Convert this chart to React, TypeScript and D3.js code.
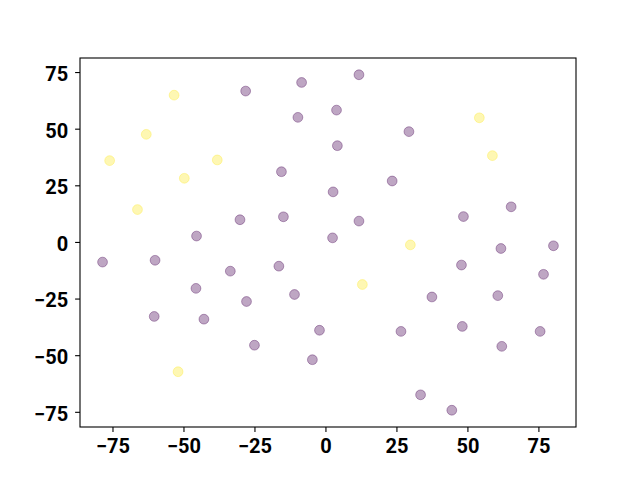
import React, { useEffect, useRef } from "react";
import * as d3 from "d3";

// point coordinates, grouped by class
const purpleX = [-45.4, -30.1, -28.1, -15.5, -14.8, -9.7, -8.4, 2.5, 2.7, 3.9, 4.2, 11.8, 11.8, 29.4, 23.5, 48.6, 65.4, 61.8, 80.3, -78.5, -60.0, -33.5, -16.4, -45.6, -27.8, -10.9, -60.3, -42.8, -2.1, -25.0, -4.6, 47.9, 76.8, 37.5, 60.7, 26.6, 48.2, 75.6, 62.1, 33.5, 44.5];
const purpleY = [2.6, 9.8, 66.6, 31.0, 11.1, 55.0, 70.4, 1.8, 22.1, 58.2, 42.5, 73.8, 9.2, 48.7, 26.9, 11.2, 15.5, -2.9, -1.7, -8.9, -8.1, -12.9, -10.7, -20.5, -26.3, -23.2, -32.9, -34.1, -39.0, -45.6, -52.0, -10.2, -14.3, -24.3, -23.7, -39.5, -37.3, -39.5, -46.1, -67.5, -74.3];
const yellowX = [-76.0, -66.2, -63.1, -53.3, -49.7, -38.1, -51.9, 13.0, 29.9, 54.2, 58.8];
const yellowY = [35.9, 14.3, 47.5, 64.8, 28.1, 36.2, -57.3, -18.8, -1.3, 54.8, 38.1];

const xTicks = [-75, -50, -25, 0, 25, 50, 75];
const yTicks = [-75, -50, -25, 0, 25, 50, 75];

export default function App() {
    const ref = useRef<SVGSVGElement>(null);

    useEffect(() => {
        const svg = d3.select(ref.current);
        svg.selectAll("*").remove();

        const left = 80, right = 576, top = 58, bottom = 427;

        const allX = [...purpleX, ...yellowX];
        const allY = [...purpleY, ...yellowY];
        const [x0, x1] = d3.extent(allX) as [number, number];
        const [y0, y1] = d3.extent(allY) as [number, number];
        const mx = (x1 - x0) * 0.05;
        const my = (y1 - y0) * 0.05;

        const x = d3.scaleLinear().domain([x0 - mx, x1 + mx]).range([left, right]);
        const y = d3.scaleLinear().domain([y0 - my, y1 + my]).range([bottom, top]);

        const points = [
            ...purpleX.map((d, i) => ({ x: d, y: purpleY[i], c: "#440154" })),
            ...yellowX.map((d, i) => ({ x: d, y: yellowY[i], c: "#fde725" })),
        ];

        svg.append("g")
            .selectAll("circle")
            .data(points)
            .enter()
            .append("circle")
            .attr("cx", (d) => x(d.x))
            .attr("cy", (d) => y(d.y))
            .attr("r", 4.9)
            .attr("fill", (d) => d.c)
            .attr("fill-opacity", 0.35)
            .attr("stroke", (d) => d.c)
            .attr("stroke-opacity", 0.35)
            .attr("stroke-width", 1);

        // frame
        svg.append("rect")
            .attr("x", left)
            .attr("y", top)
            .attr("width", right - left)
            .attr("height", bottom - top)
            .attr("fill", "none")
            .attr("stroke", "black")
            .attr("stroke-width", 1.1);

        const fmt = d3.format("d");

        const xAxis = d3.axisBottom(x).tickValues(xTicks).tickFormat((d) => fmt(d as number)).tickSize(4.9).tickPadding(7);
        const gx = svg.append("g").attr("transform", `translate(0,${bottom})`).call(xAxis);
        const yAxis = d3.axisLeft(y).tickValues(yTicks).tickFormat((d) => fmt(d as number)).tickSize(4.9).tickPadding(7);
        const gy = svg.append("g").attr("transform", `translate(${left},0)`).call(yAxis);
        gy.selectAll("text").attr("dy", "0.42em");

        [gx, gy].forEach((g) => {
            g.select(".domain").remove();
            g.selectAll("line").attr("stroke", "black").attr("stroke-width", 1.1);
            g.selectAll("text")
                .attr("fill", "black")
                .style("font-family", "Roboto, 'DejaVu Sans', sans-serif")
                .style("font-weight", "bold")
                .style("font-size", "20px");
        });
    }, []);

    return (
        <svg ref={ref} width={640} height={480} style={{ position: "absolute", left: 0, top: 0, background: "white" }}></svg>
    );
}
